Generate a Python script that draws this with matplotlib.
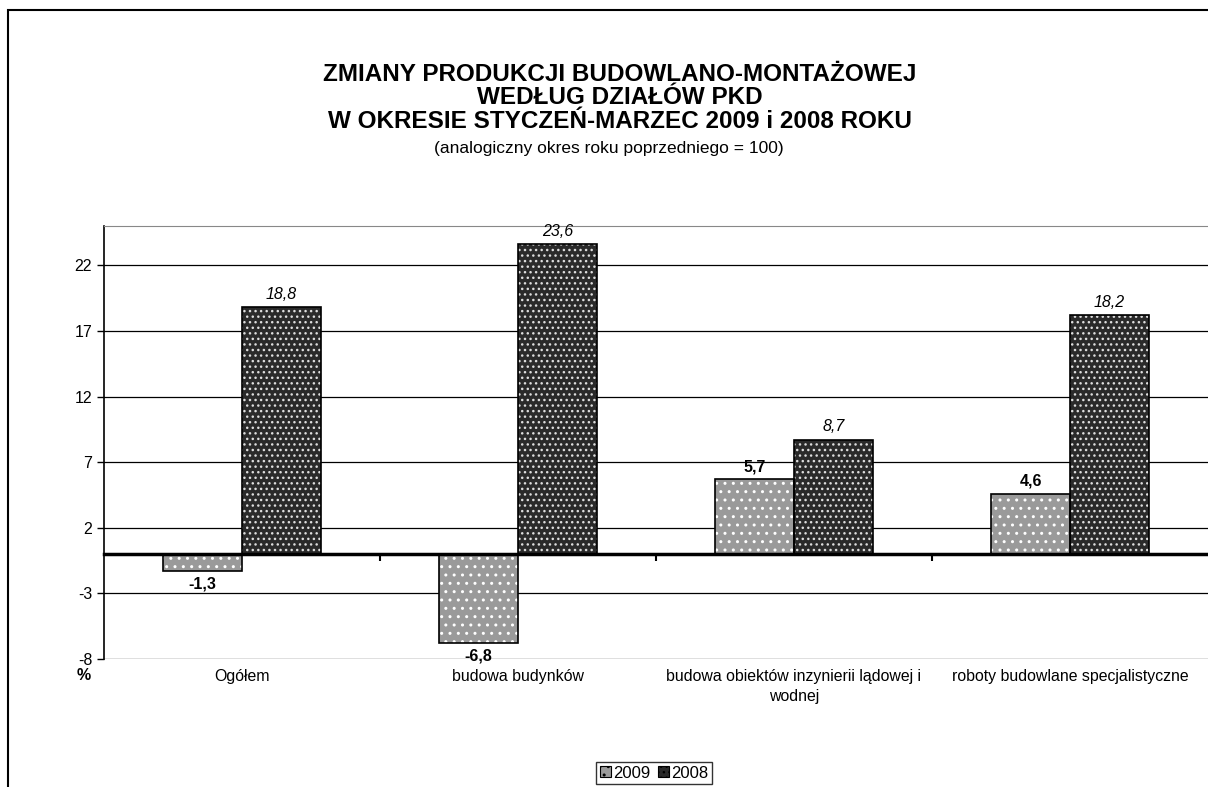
import matplotlib.pyplot as plt
from matplotlib.patches import Rectangle, Patch
import matplotlib.transforms as mtransforms

plt.rcParams["font.family"] = ["Liberation Sans", "DejaVu Sans"]
plt.rcParams["axes.unicode_minus"] = False

# data
categories = [
    "Ogółem",
    "budowa budynków",
    "budowa obiektów inzynierii lądowej i\nwodnej",
    "roboty budowlane specjalistyczne",
]
values_2009 = [-1.3, -6.8, 5.7, 4.6]
values_2008 = [18.8, 23.6, 8.7, 18.2]
series_names = ["2009", "2008"]
y_ticks = [-8, -3, 2, 7, 12, 17, 22]


def fmt(v):
    return ("%.1f" % v).replace(".", ",")


fig = plt.figure(figsize=(12.08, 7.87), dpi=100)
fig.patch.set_facecolor("white")

# outer chart border
fig.patches.append(Rectangle((8 / 1208, -0.05), 1.1, 1 - 10 / 787 + 0.05,
                             transform=fig.transFigure, fill=False,
                             edgecolor="black", linewidth=1.5))

ax = fig.add_axes([104 / 1208, 1 - 659 / 787, 1 - 104 / 1208, (659 - 226) / 787])

w = 0.286
x = list(range(len(categories)))
x09 = [i - w / 2 for i in x]
x08 = [i + w / 2 for i in x]

# fill + white dots, then black outline
ax.bar(x09, values_2009, w, color="#9a9a9a", edgecolor="white", hatch="..",
       linewidth=0, zorder=3)
ax.bar(x09, values_2009, w, fill=False, edgecolor="black", linewidth=1.2, zorder=4)
ax.bar(x08, values_2008, w, color="#2a2a2a", edgecolor="#dddddd", hatch="...",
       linewidth=0, zorder=3)
ax.bar(x08, values_2008, w, fill=False, edgecolor="black", linewidth=1.2, zorder=4)

for xi, v in zip(x09, values_2009):
    off = 0.95 if v > 0 else -0.95
    ax.text(xi, v + off, fmt(v), ha="center", va="center", fontsize=11.5,
            fontweight="bold", zorder=5)
for xi, v in zip(x08, values_2008):
    ax.text(xi, v + 1.0, fmt(v), ha="center", va="center", fontsize=11.5,
            style="italic", zorder=5)

ax.set_xlim(-0.5, 3.5)
ax.set_ylim(-8, 25)
ax.set_yticks(y_ticks)
ax.yaxis.grid(True, color="black", linewidth=0.9)
ax.set_axisbelow(True)
ax.tick_params(axis="y", labelsize=11.5, length=5, width=1, direction="out")

ax.spines["right"].set_visible(False)
ax.spines["top"].set_color("#888888")
ax.spines["left"].set_linewidth(1.2)
ax.spines["bottom"].set_position(("data", 0))
ax.spines["bottom"].set_linewidth(2.5)
ax.spines["bottom"].set_zorder(6)

ax.set_xticks([0.5, 1.5, 2.5])
ax.set_xticklabels([])
ax.tick_params(axis="x", length=5, width=1.5, direction="out")

trans = mtransforms.blended_transform_factory(ax.transData, ax.transAxes)
for xi, c in zip(x, categories):
    ax.text(xi, -0.022, c, transform=trans, ha="center", va="top", fontsize=11.4,
            linespacing=1.45)
ax.text(-0.018, -0.02, "%", transform=ax.transAxes, ha="center", va="top",
        fontsize=11.5, fontweight="bold")

fig.text(0.513, 1 - 98 / 787,
         "ZMIANY PRODUKCJI BUDOWLANO-MONTAŻOWEJ\nWEDŁUG DZIAŁÓW PKD\nW OKRESIE STYCZEŃ-MARZEC 2009 i 2008 ROKU",
         ha="center", va="center", fontsize=17.5, fontweight="bold", linespacing=1.03)
fig.text(0.504, 1 - 149 / 787, "(analogiczny okres roku poprzedniego = 100)",
         ha="center", va="center", fontsize=12.5)

handles = [
    Patch(facecolor="#9a9a9a", edgecolor="black", hatch="..", linewidth=0.8),
    Patch(facecolor="#2a2a2a", edgecolor="black", hatch="...", linewidth=0.8),
]
leg = fig.legend(handles, series_names, loc="upper center", ncol=2,
                 bbox_to_anchor=(654 / 1208, 1 - 762 / 787), fontsize=12,
                 frameon=True, fancybox=False, edgecolor="black",
                 handlelength=0.65, handleheight=0.65, handletextpad=0.15,
                 columnspacing=0.45, borderpad=0.22, borderaxespad=0)
leg.get_frame().set_linewidth(1)

fig.savefig("out.png", dpi=100)
